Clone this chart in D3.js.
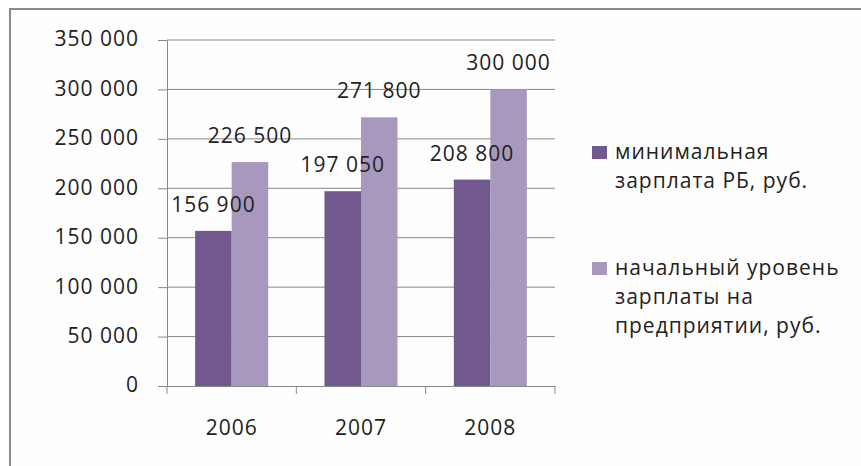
<!DOCTYPE html>
<meta charset="utf-8">
<style>
  body { margin: 0; background: #fff; }
  svg text { font-family: "Open Sans", Lato, sans-serif; fill: #222; letter-spacing: 1px; }
</style>
<body>
<svg id="chart" width="861" height="466"></svg>
<script src="https://cdn.jsdelivr.net/npm/d3@7"></script>
<script>
var years = ["2006", "2007", "2008"];
var minWage = [156900, 197050, 208800];
var startWage = [226500, 271800, 300000];
var seriesNames = [["минимальная", "зарплата РБ, руб."],
                   ["начальный уровень", "зарплаты на", "предприятии, руб."]];
var colors = ["#71588f", "#a898be"];
var yTicks = [0, 50000, 100000, 150000, 200000, 250000, 300000, 350000];

var svg = d3.select("#chart");
var fmt = function (v) { return d3.format(",")(v).replace(/,/g, " "); };
var fs = "21px";

// frame
svg.append("rect").attr("x", 10).attr("y", 9).attr("width", 870).attr("height", 480)
  .attr("fill", "#fefefe").attr("stroke", "#8a8a8a").attr("stroke-width", 2);

var pLeft = 167, pRight = 555, pTop = 40, pBottom = 386;
var x = d3.scaleBand().domain(years).range([pLeft, pRight]);
var x1 = d3.scaleBand().domain([0, 1]).range([0, x.bandwidth()]).paddingInner(0).paddingOuter(0.77);
var y = d3.scaleLinear().domain([0, 350000]).range([pBottom, pTop]);

// gridlines + y axis
var yAxis = svg.append("g").attr("transform", "translate(" + pLeft + ",0)")
  .call(d3.axisLeft(y).tickValues(yTicks).tickSize(9).tickSizeOuter(0).tickPadding(19).tickFormat(fmt));
yAxis.select(".domain").attr("stroke", "#888");
yAxis.selectAll("line").attr("stroke", "#888");
yAxis.selectAll("text").style("font-size", fs).attr("fill", "#222").attr("dy", "0.28em");

svg.append("g").selectAll("line").data(yTicks.slice(1)).enter().append("line")
  .attr("x1", pLeft).attr("x2", pRight)
  .attr("y1", function (d) { return y(d); }).attr("y2", function (d) { return y(d); })
  .attr("stroke", "#888");

// bars
var series = [minWage, startWage];
series.forEach(function (vals, s) {
  svg.append("g").selectAll("rect").data(vals).enter().append("rect")
    .attr("x", function (d, i) { return x(years[i]) + x1(s); })
    .attr("y", function (d) { return y(d); })
    .attr("width", x1.bandwidth())
    .attr("height", function (d) { return pBottom - y(d); })
    .attr("fill", colors[s]);
});
// value labels on top of everything
series.forEach(function (vals, s) {
  svg.append("g").selectAll("text").data(vals).enter().append("text")
    .attr("x", function (d, i) { return x(years[i]) + x1(s) + x1.bandwidth() / 2; })
    .attr("y", function (d) { return y(d) - 19; })
    .attr("text-anchor", "middle")
    .style("font-size", fs)
    .text(fmt);
});

// x axis
var xAxis = svg.append("g").attr("transform", "translate(0," + pBottom + ")")
  .call(d3.axisBottom(x).tickSize(0).tickSizeOuter(0).tickPadding(34));
xAxis.select(".domain").attr("stroke", "#888");
xAxis.selectAll("text").style("font-size", fs).attr("fill", "#222");
svg.append("g").selectAll("line").data([pLeft, x("2007"), x("2008"), pRight]).enter().append("line")
  .attr("x1", function (d) { return d; }).attr("x2", function (d) { return d; })
  .attr("y1", pBottom).attr("y2", pBottom + 8).attr("stroke", "#888");

// legend
var legY = [159, 275];
seriesNames.forEach(function (lines, s) {
  svg.append("rect").attr("x", 592).attr("y", legY[s] - 13).attr("width", 15).attr("height", 13)
    .attr("fill", colors[s]);
  lines.forEach(function (t, k) {
    svg.append("text").attr("x", 615).attr("y", legY[s] + k * 29)
      .style("font-size", fs).text(t);
  });
});
</script>
</body>
